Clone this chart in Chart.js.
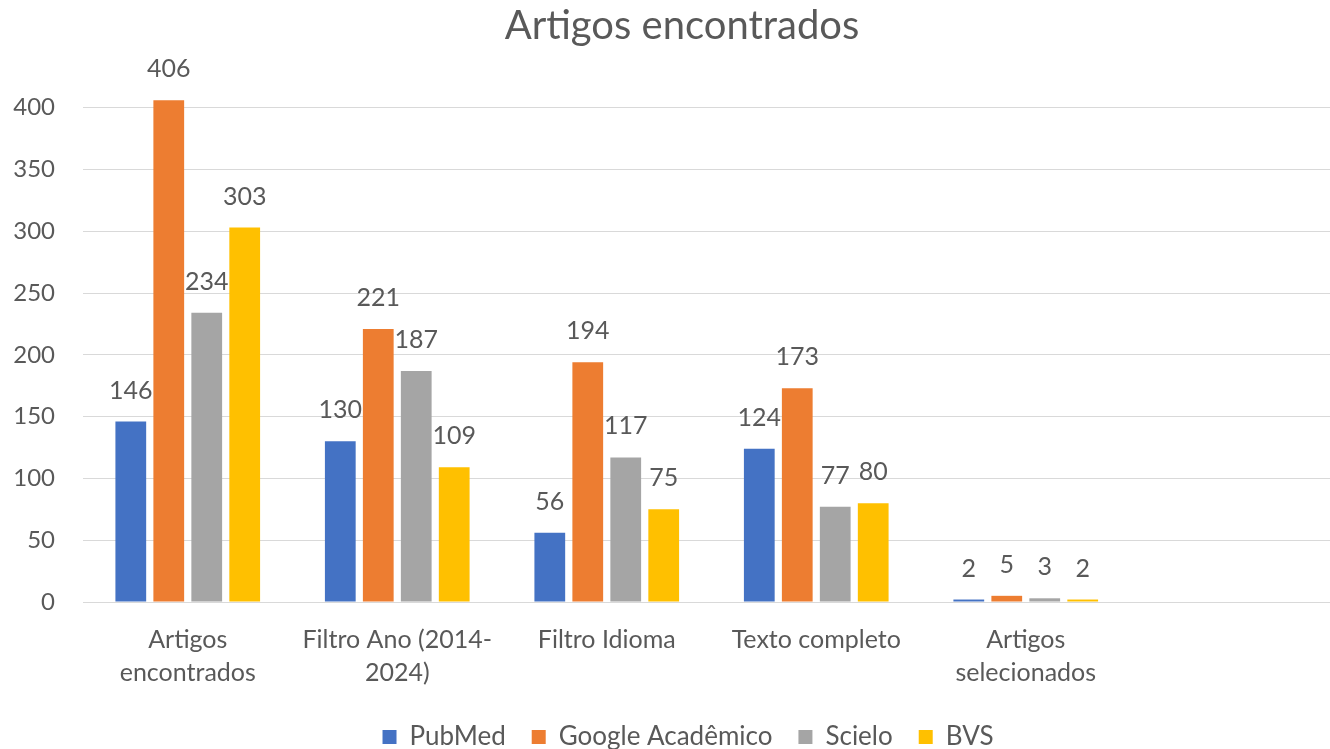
<!DOCTYPE html>
<html>
<head>
<meta charset="utf-8">
<script src="https://cdn.jsdelivr.net/npm/chart.js@4"></script>
<style>
html,body{margin:0;padding:0;background:#fff;}
#wrap{width:1330px;height:749px;position:relative;}
</style>
</head>
<body>
<div id="wrap"><canvas id="c" width="1330" height="749"></canvas></div>
<script>
const categories = [["Artigos","encontrados"], ["Filtro Ano (2014-","2024)"], ["Filtro Idioma"], ["Texto completo"], ["Artigos","selecionados"], ""];
const seriesNames = ["PubMed", "Google Acadêmico", "Scielo", "BVS"];
const pubmed = [146, 130, 56, 124, 2, null];
const google = [406, 221, 194, 173, 5, null];
const scielo = [234, 187, 117, 77, 3, null];
const bvs = [303, 109, 75, 80, 2, null];
const yTicks = [0, 50, 100, 150, 200, 250, 300, 350, 400];
const colors = ["#4472C4", "#ED7D31", "#A5A5A5", "#FFC000"];

const FONT = "Lato, 'Open Sans', sans-serif";
const TXT = "#595959";

const labelPlugin = {
  id: 'valueLabels',
  afterDatasetsDraw(chart) {
    const ctx = chart.ctx;
    ctx.save();
    ctx.font = "25px " + FONT;
    ctx.fillStyle = TXT;
    ctx.textAlign = "center";
    ctx.textBaseline = "alphabetic";
    chart.data.datasets.forEach((ds, i) => {
      const meta = chart.getDatasetMeta(i);
      meta.data.forEach((el, j) => {
        const v = ds.data[j];
        if (v === null || v === undefined) return;
        ctx.fillText(String(v), el.x, el.y - 23);
      });
    });
    ctx.restore();
  }
};

// adjust box placement to match the reference (plot area runs slightly past the right edge)
const EXTEND_RIGHT = 10;
const shiftPlugin = {
  id: 'shiftBoxes',
  afterLayout(chart) {
    if (chart.titleBlock) { chart.titleBlock.left += 17; chart.titleBlock.right += 17; }
    if (chart.legend) {
      chart.legend.left += 23; chart.legend.right += 23;
      chart.legend.top += 11; chart.legend.bottom += 11;
      if (chart.legend.adjustHitBoxes) chart.legend.adjustHitBoxes();
    }
    const xs = chart.scales.x;
    if (xs) {
      xs.right += EXTEND_RIGHT;
      xs.width += EXTEND_RIGHT;
      xs.configure();
      chart.chartArea.right += EXTEND_RIGHT;
      chart.chartArea.width = chart.chartArea.right - chart.chartArea.left;
    }
  }
};

const allSeries = [pubmed, google, scielo, bvs];
new Chart(document.getElementById('c'), {
  type: 'bar',
  data: {
    labels: categories,
    datasets: allSeries.map((d, i) => ({
      label: seriesNames[i],
      data: d,
      backgroundColor: colors[i],
      borderWidth: 0,
      categoryPercentage: 0.725,
      barPercentage: 0.81
    }))
  },
  options: {
    responsive: false,
    animation: false,
    layout: { padding: { left: 0, right: 0, top: 0, bottom: 0 } },
    plugins: {
      title: {
        display: true,
        text: "Artigos encontrados",
        color: TXT,
        font: { family: FONT, size: 40, weight: 'normal', lineHeight: 1.2 },
        padding: { top: 2, bottom: 33 }
      },
      legend: {
        position: 'bottom',
        labels: {
          color: TXT,
          font: { family: FONT, size: 26 },
          boxWidth: 14,
          boxHeight: 14,
          padding: 26
        }
      },
      tooltip: { enabled: false }
    },
    scales: {
      x: {
        grid: { display: false, drawTicks: false },
        border: { display: true, color: "#D9D9D9", width: 1 },
        afterFit(axis) { axis.height = 85; },
        ticks: {
          color: TXT,
          font: { family: FONT, size: 25, lineHeight: 1.32 },
          padding: 21,
          maxRotation: 0,
          autoSkip: false
        }
      },
      y: {
        min: 0,
        max: 420,
        afterBuildTicks(axis) {
          axis.ticks = yTicks.map(v => ({ value: v }));
        },
        afterFit(axis) { axis.width = 83; },
        grid: { color: "#D9D9D9", lineWidth: 1, drawTicks: false },
        border: { display: false },
        ticks: {
          color: TXT,
          font: { family: FONT, size: 24 },
          padding: 28
        }
      }
    }
  },
  plugins: [labelPlugin, shiftPlugin]
});
</script>
</body>
</html>
